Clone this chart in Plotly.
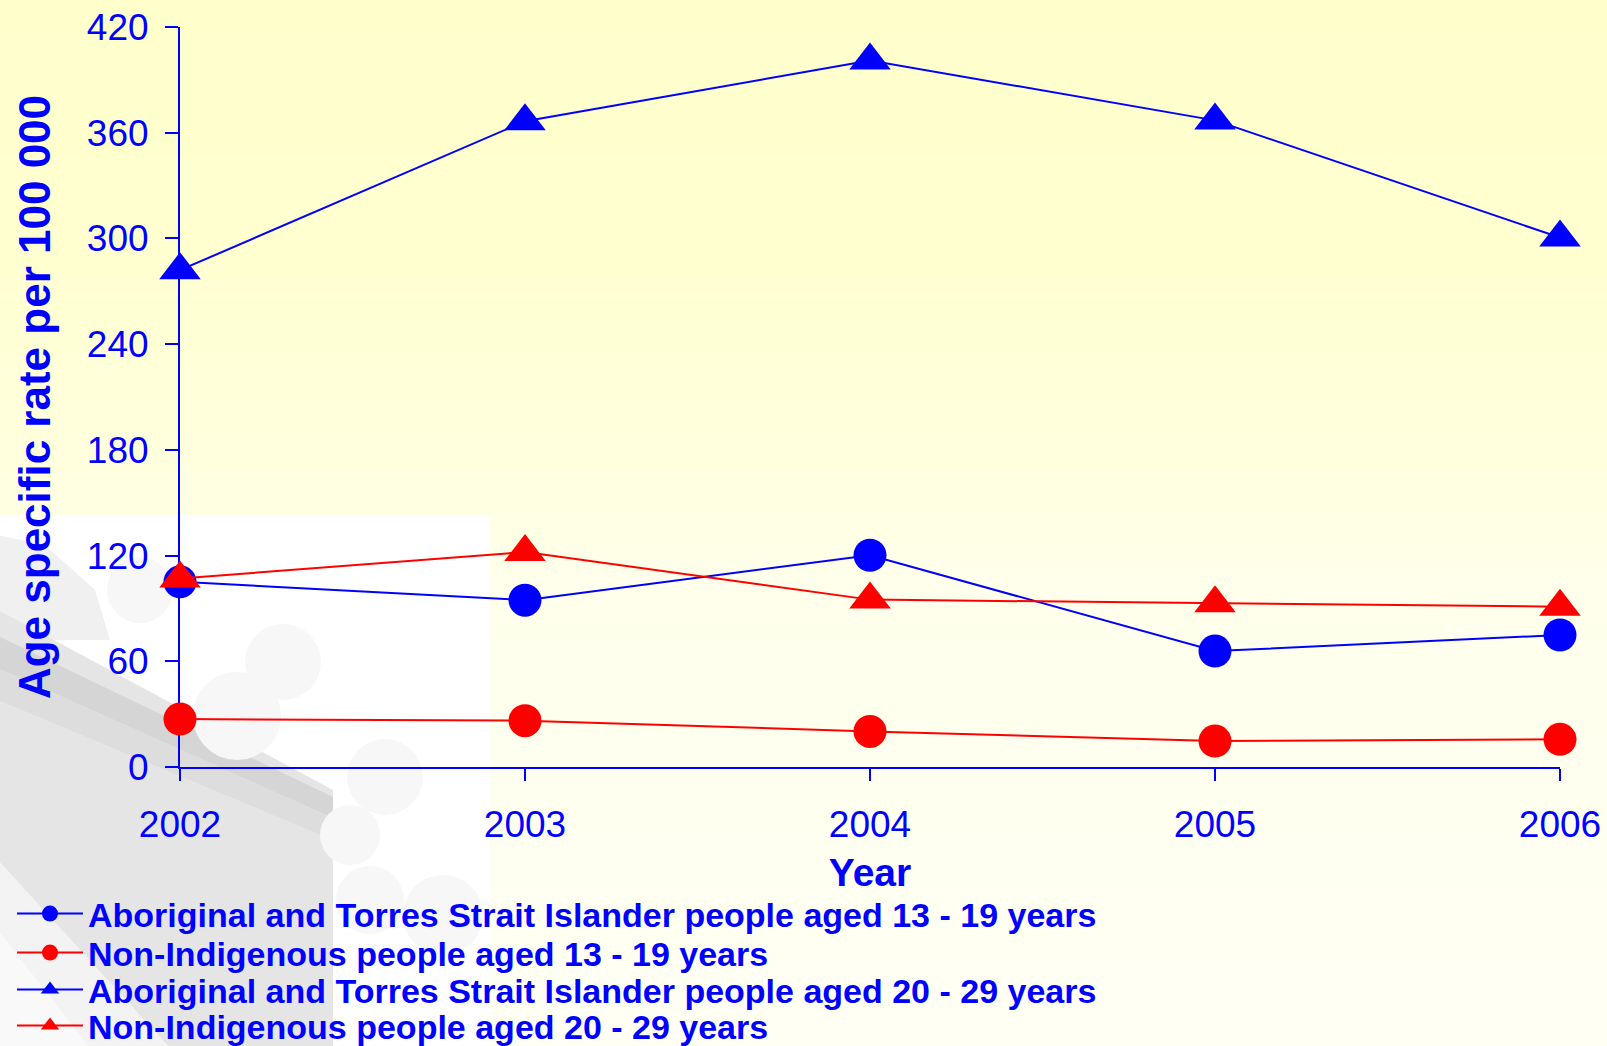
import plotly.graph_objects as go

# ---------------- data ----------------
years = [2002, 2003, 2004, 2005, 2006]
year_labels = ["2002", "2003", "2004", "2005", "2006"]
y_ticks = [0, 60, 120, 180, 240, 300, 360, 420]

atsi_13_19 = [105.1, 94.7, 120.2, 65.8, 74.9]
non_13_19 = [27.2, 26.3, 20.2, 14.7, 15.7]
atsi_20_29 = [282.0, 366.5, 401.0, 367.0, 300.5]
non_20_29 = [107.0, 122.0, 95.0, 93.0, 91.0]

names = [
    "Aboriginal and Torres Strait Islander people aged 13 - 19 years",
    "Non-Indigenous people aged 13 - 19 years",
    "Aboriginal and Torres Strait Islander people aged 20 - 29 years",
    "Non-Indigenous people aged 20 - 29 years",
]
x_title = "Year"
y_title = "Age specific rate per 100 000"

# ---------------- geometry / style ----------------
W, H = 1607, 1046
ML, MR, MT, MB = 180, 47, 27, 279
PW, PH = W - ML - MR, H - MT - MB
FONT = "Liberation Sans, Arial, sans-serif"
BLUE, RED = "#0000FF", "#FF0000"


def px(x):
    return (x - ML) / PW


def py(y):
    return (H - MB - y) / PH


fig = go.Figure()

series = [
    (atsi_13_19, BLUE, "circle", 33, "legend"),
    (non_13_19, RED, "circle", 33, "legend2"),
    (atsi_20_29, BLUE, "triangle-up", 36, "legend3"),
    (non_20_29, RED, "triangle-up", 36, "legend4"),
]
for (vals, col, sym, size, leg), name in zip(series, names):
    fig.add_trace(go.Scatter(
        x=years, y=vals, name=name, mode="lines+markers",
        line=dict(color=col, width=2),
        marker=dict(symbol=sym, size=size, color=col, line=dict(width=0)),
        cliponaxis=False, legend=leg,
    ))

# ---------------- background decoration ----------------
shapes = []
stops = [(0, 204), (250, 208), (450, 222), (600, 236), (800, 240), (1046, 244)]


def blue_at(y):
    for (y0, b0), (y1, b1) in zip(stops[:-1], stops[1:]):
        if y0 <= y <= y1:
            return b0 + (b1 - b0) * (y - y0) / (y1 - y0)
    return stops[-1][1]


N = 60
for i in range(N):
    y0 = H * i / N
    y1 = H * (i + 1) / N + 1
    b = int(round(blue_at((y0 + y1) / 2)))
    shapes.append(dict(type="rect", xref="paper", yref="paper",
                       x0=px(-2), x1=px(W + 2), y0=py(y1), y1=py(y0 - (2 if i == 0 else 0)),
                       fillcolor=f"rgb(255,255,{b})", line=dict(width=0),
                       layer="below"))

# white panel lower-left
shapes.append(dict(type="rect", xref="paper", yref="paper",
                   x0=px(-2), x1=px(490), y0=py(H + 2), y1=py(515),
                   fillcolor="white", line=dict(width=0), layer="below"))


def poly(points, color, opacity=1.0):
    d = "M " + " L ".join(f"{px(a):.5f},{py(b):.5f}" for a, b in points) + " Z"
    return dict(type="path", xref="paper", yref="paper", path=d,
                fillcolor=color, line=dict(width=0), opacity=opacity,
                layer="below")


def circ(cx, cy, r, color):
    return dict(type="circle", xref="paper", yref="paper",
                x0=px(cx - r), x1=px(cx + r), y0=py(cy + r), y1=py(cy - r),
                fillcolor=color, line=dict(width=0), layer="below")


shapes.append(poly([(-2, 535), (45, 545), (95, 590), (110, 640), (-2, 640)], "#f0f0f0"))
shapes.append(poly([(-2, 610), (333, 790), (333, 1048), (-2, 1048)], "#e5e5e5"))
shapes.append(poly([(-2, 636), (333, 797), (333, 818), (-2, 668)], "#d5d5d5"))
shapes.append(poly([(-2, 668), (333, 818), (333, 840), (-2, 700)], "#dddddd"))
shapes.append(poly([(-2, 860), (-2, 1048), (170, 1048)], "#ffffff", 0.55))
shapes.append(poly([(-2, 930), (-2, 1048), (90, 1048)], "#ffffff", 0.5))
for cx, cy, r in [(283, 662, 38), (385, 777, 38), (237, 716, 44), (140, 590, 33),
                  (370, 900, 34), (443, 915, 40), (350, 835, 30)]:
    shapes.append(circ(cx, cy, r, "#f7f7f7"))

# ---------------- legends (one per row) ----------------
leg_rows = [914, 953, 990, 1026]
legend_common = dict(
    x=px(12), xanchor="left", yanchor="middle",
    bgcolor="rgba(0,0,0,0)", borderwidth=0,
    font=dict(family=FONT, size=34, color=BLUE, weight="bold"),
    itemwidth=66, itemclick=False, itemdoubleclick=False,
)
legends = {}
for key, row in zip(["legend", "legend2", "legend3", "legend4"], leg_rows):
    legends[key] = dict(legend_common, y=py(row))

fig.update_layout(
    width=W, height=H,
    margin=dict(l=ML, r=MR, t=MT, b=MB, autoexpand=False),
    paper_bgcolor="#FFFFF2", plot_bgcolor="rgba(0,0,0,0)",
    font=dict(family=FONT, color=BLUE),
    shapes=shapes,
    showlegend=True,
    xaxis=dict(
        range=[2002, 2006], tickmode="array", tickvals=years, ticktext=year_labels,
        showline=True, linecolor=BLUE, linewidth=2,
        ticks="outside", ticklen=12, tickwidth=2, tickcolor=BLUE,
        showgrid=False, zeroline=False, layer="below traces",
        tickfont=dict(family=FONT, size=37, color=BLUE),
        ticklabelstandoff=12,
        title=dict(text=x_title, standoff=14,
                   font=dict(family=FONT, size=39, color=BLUE, weight="bold")),
        fixedrange=True,
    ),
    yaxis=dict(
        range=[0, 420], tickmode="array", tickvals=y_ticks,
        ticktext=[str(v) for v in y_ticks],
        showline=True, linecolor=BLUE, linewidth=2,
        ticks="outside", ticklen=13, tickwidth=2, tickcolor=BLUE,
        showgrid=False, zeroline=False, layer="below traces",
        tickfont=dict(family=FONT, size=37, color=BLUE),
        ticklabelstandoff=9,
        title=dict(text=y_title, standoff=22,
                   font=dict(family=FONT, size=44, color=BLUE, weight="bold")),
        fixedrange=True,
    ),
    **legends,
)

fig.write_html(
    "out.html",
    config={"displayModeBar": False, "staticPlot": False},
    post_script="document.body.style.margin='0px';document.body.style.padding='0px';"
                "document.body.style.overflow='hidden';",
)
